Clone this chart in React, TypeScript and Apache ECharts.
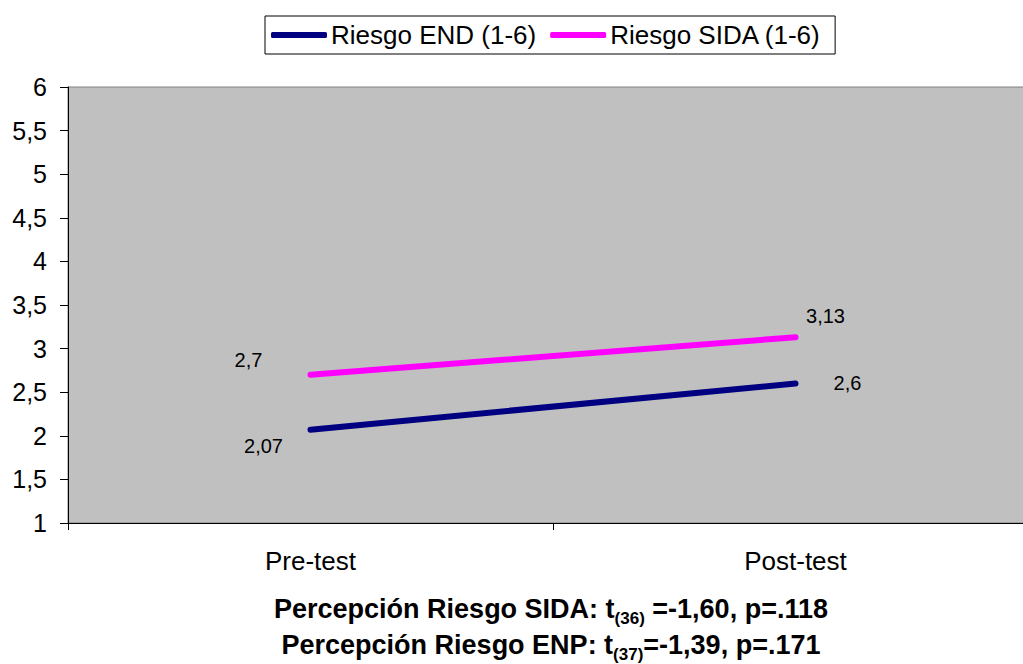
import React, { useEffect, useRef } from "react";
import * as echarts from "echarts";

const categories = ["Pre-test", "Post-test"];
const endValues = [2.07, 2.6];
const sidaValues = [2.7, 3.13];
const endLabels = ["2,07", "2,6"];
const sidaLabels = ["2,7", "3,13"];
const seriesNames = ["Riesgo END (1-6)", "Riesgo SIDA (1-6)"];
const footerLines = [
  ["Percepción Riesgo SIDA: t", "(36)", " =-1,60, p=.118"],
  ["Percepción Riesgo ENP: t", "(37)", "=-1,39, p=.171"],
];

const FONT = "Liberation Sans, Arial, sans-serif";

export default function App() {
  const ref = useRef<HTMLDivElement>(null);
  useEffect(() => {
    document.body.style.margin = "0";
    const chart = echarts.init(ref.current!, null, { renderer: "svg" });
    const endOffsets = [[-47, 16], [52, 0]];
    const sidaOffsets = [[-62, -15], [30, -21]];
    const mkData = (vals: number[], labels: string[], offs: number[][]) =>
      vals.map((v, i) => ({
        value: v,
        label: { show: true, position: "inside", offset: offs[i], formatter: labels[i] },
      }));
    const option: any = {
      animation: false,
      textStyle: { fontFamily: FONT },
      legend: {
        left: 265,
        top: 16,
        padding: [6, 14, 6, 6],
        itemGap: 14,
        itemWidth: 56,
        itemHeight: 6,
        icon: "roundRect",
        borderColor: "#000",
        borderWidth: 1,
        borderRadius: 0,
        textStyle: { fontSize: 26, color: "#000", fontFamily: FONT, padding: [0, 0, 0, -1] },
        data: seriesNames,
      },
      grid: { left: 68, top: 87, right: 7, bottom: 141, show: true, backgroundColor: "#C0C0C0", borderColor: "#808080", borderWidth: 1 },
      xAxis: {
        type: "category",
        data: categories,
        boundaryGap: true,
        axisLine: { lineStyle: { color: "#000", width: 1 } },
        axisTick: { show: true, length: 7, inside: false, lineStyle: { color: "#000" } },
        axisLabel: { fontSize: 26, color: "#000", margin: 25, fontFamily: FONT },
      },
      yAxis: {
        type: "value",
        min: 1,
        max: 6,
        interval: 0.5,
        splitLine: { show: false },
        axisLine: { show: true, lineStyle: { color: "#000", width: 1 } },
        axisTick: { show: true, length: 8, lineStyle: { color: "#000" } },
        axisLabel: {
          fontSize: 25,
          color: "#000",
          margin: 21,
          fontFamily: FONT,
          formatter: (v: number) => String(v).replace(".", ","),
        },
      },
      series: [
        {
          name: seriesNames[0],
          type: "line",
          data: mkData(endValues, endLabels, endOffsets),
          symbol: "circle",
          symbolSize: 1,
          itemStyle: { color: "#000080" },
          lineStyle: { color: "#000080", width: 6, cap: "round" },
          label: { fontSize: 20, color: "#000", fontFamily: FONT },
        },
        {
          name: seriesNames[1],
          type: "line",
          data: mkData(sidaValues, sidaLabels, sidaOffsets),
          symbol: "circle",
          symbolSize: 1,
          itemStyle: { color: "#FF00FF" },
          lineStyle: { color: "#FF00FF", width: 6, cap: "round" },
          label: { fontSize: 20, color: "#000", fontFamily: FONT },
        },
      ],
      graphic: footerLines.map((parts, i) => ({
        type: "text",
        x: 551,
        y: 588 + i * 36,
        style: {
          text: `{m|${parts[0]}}{s|${parts[1]}}{m|${parts[2]}}`,
          align: "center",
          verticalAlign: "top",
          rich: {
            m: { fontSize: 27, fontWeight: "bold", fontFamily: FONT, fill: "#000", lineHeight: 34, verticalAlign: "bottom" },
            s: { fontSize: 17, fontWeight: "bold", fontFamily: FONT, fill: "#000", lineHeight: 34, verticalAlign: "bottom", padding: [0, 0, -5, 0] },
          },
        },
      })),
    };
    chart.setOption(option);
    return () => chart.dispose();
  }, []);
  return (
    <div style={{ width: 1023, height: 664, overflow: "hidden" }}>
      <div ref={ref} style={{ width: 1045, height: 664 }} />
    </div>
  );
}
